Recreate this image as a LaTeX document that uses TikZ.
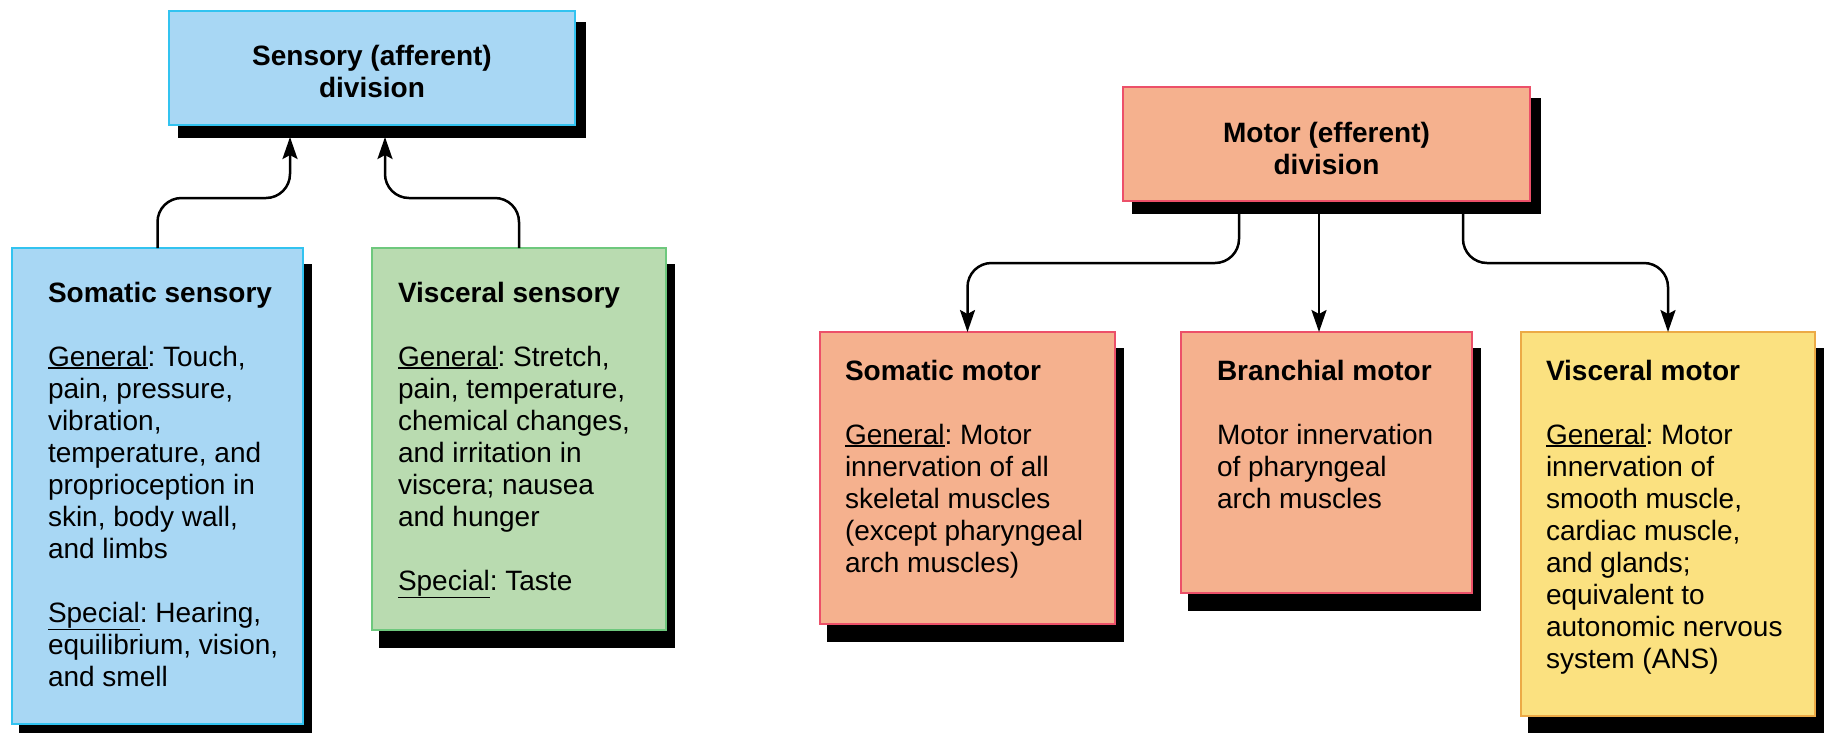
\documentclass[tikz,border=0pt]{standalone}
\usepackage{fontspec}
\setmainfont{Liberation Sans}
\usetikzlibrary{arrows.meta,calc}
\definecolor{sensfill}{RGB}{168,215,244}
\definecolor{sensline}{RGB}{50,195,240}
\definecolor{greenfill}{RGB}{185,219,176}
\definecolor{greenline}{RGB}{110,200,125}
\definecolor{salmonfill}{RGB}{245,177,142}
\definecolor{salmonline}{RGB}{236,80,105}
\definecolor{yellowfill}{RGB}{251,225,128}
\definecolor{yellowline}{RGB}{236,170,70}
\newsavebox\ulbox
\newcommand{\myul}[1]{\sbox\ulbox{#1}\rlap{\rule[\dimexpr-\dp\ulbox-2.5pt\relax]{\wd\ulbox}{1.3pt}}\usebox\ulbox}
\frenchspacing
\begin{document}
\frenchspacing
\begin{tikzpicture}[x=1pt,y=-1pt,
  every node/.style={inner sep=0pt,outer sep=0pt},
  boxbase/.style={rectangle,line width=1.5pt,anchor=north west},
  shadowtop/.style={preaction={fill=black,draw=black,transform canvas={shift={(10pt,-12pt)}}}},
  shadowlow/.style={preaction={fill=black,draw=black,transform canvas={shift={(8pt,-17pt)}}}},
  bluebox/.style={boxbase,fill=sensfill,draw=sensline},
  greenbox/.style={boxbase,fill=greenfill,draw=greenline},
  salmonbox/.style={boxbase,fill=salmonfill,draw=salmonline},
  yellowbox/.style={boxbase,fill=yellowfill,draw=yellowline},
  txt/.style={anchor=north west,align=left,font=\fontsize{28}{32}\selectfont\frenchspacing},
  ctxt/.style={anchor=north,align=center,font=\fontsize{28}{32}\selectfont\bfseries},
  arr/.style={line width=2.5pt,-{Stealth[length=22pt,width=15pt,inset=4pt]},rounded corners=24pt}
]
\fill[white] (0,0) rectangle (1826,732);
\useasboundingbox (0,0) rectangle (1826,732);

% boxes
\node[bluebox,shadowtop,minimum width=406pt,minimum height=114pt] (sens) at (169,11) {};
\node[salmonbox,shadowtop,minimum width=407pt,minimum height=114pt] (motor) at (1123,87) {};
\node[bluebox,shadowlow,minimum width=291pt,minimum height=476pt] (ss) at (12,248) {};
\node[greenbox,shadowlow,minimum width=294pt,minimum height=382pt] (vs) at (372,248) {};
\node[salmonbox,shadowlow,minimum width=295pt,minimum height=292pt] (sm) at (820,332) {};
\node[salmonbox,shadowlow,minimum width=291pt,minimum height=261pt] (br) at (1181,332) {};
\node[yellowbox,shadowlow,minimum width=294pt,minimum height=384pt] (vm) at (1521,332) {};

% texts
\node[ctxt] (sens-t) at ($(sens.north)+(0,31.6)$) {\strut Sensory (afferent)\\division};
\node[ctxt] (motor-t) at ($(motor.north)+(0,32.6)$) {\strut Motor (efferent)\\division};

\node[txt] (ss-t) at (48,279.6) {\strut\textbf{Somatic sensory}\\[32pt]
\myul{General}: Touch,\\ pain, pressure,\\ vibration,\\ temperature, and\\ proprioception in\\ skin, body wall,\\ and limbs\\[32pt]
\myul{Special}: Hearing,\\ equilibrium, vision,\\ and smell};

\node[txt] (vs-t) at (398,279.6) {\strut\textbf{Visceral sensory}\\[32pt]
\myul{General}: Stretch,\\ pain, temperature,\\ chemical changes,\\ and irritation in\\ viscera; nausea\\ and hunger\\[32pt]
\myul{Special}: Taste};

\node[txt] (sm-t) at (845,357.6) {\strut\textbf{Somatic motor}\\[32pt]
\myul{General}: Motor\\ innervation of all\\ skeletal muscles\\ (except pharyngeal\\ arch muscles)};

\node[txt] (br-t) at (1217,357.6) {\strut\textbf{Branchial motor}\\[32pt]
Motor innervation\\ of pharyngeal\\ arch muscles};

\node[txt] (vm-t) at (1546,357.6) {\strut\textbf{Visceral motor}\\[32pt]
\myul{General}: Motor\\ innervation of\\ smooth muscle,\\ cardiac muscle,\\ and glands;\\ equivalent to\\ autonomic nervous\\ system (ANS)};

% connectors
\draw[arr] (ss.north) |- ($(sens.south west)+(121,73)$) -- ($(sens.south west)+(121,12)$);
\draw[arr] (vs.north) |- ($(sens.south west)+(216,73)$) -- ($(sens.south west)+(216,12)$);

\draw[arr] ($(motor.south west)+(116,12)$) |- ($(sm.north)+(0,-69)$) -- (sm.north);
\coordinate (mstart) at ($(motor.south west)+(196,12)$);
\draw[arr] (mstart) -- (mstart |- br.north);
\draw[arr] ($(motor.south west)+(340,12)$) |- ($(vm.north)+(0,-69)$) -- (vm.north);
\end{tikzpicture}
\end{document}
